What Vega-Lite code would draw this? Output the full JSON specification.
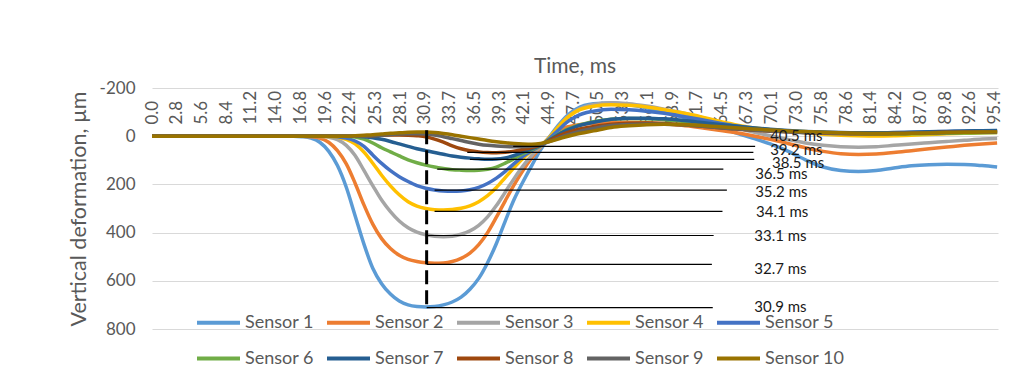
{
"$schema": "https://vega.github.io/schema/vega-lite/v6.json",
"autosize": {"type": "none"},
"width": 846,
"height": 241,
"padding": {"left": 152, "top": 88, "right": 16, "bottom": 39},
"background": "white",
"config": {"font": "Lato", "view": {"stroke": null}},
"title": {"text": "Time, ms", "fontSize": 21, "fontWeight": "normal", "color": "#595959", "anchor": "middle", "offset": 2},
"datasets": {
"curves": [
{"t":0,"Sensor 1":0,"Sensor 2":0,"Sensor 3":0,"Sensor 4":0,"Sensor 5":0,"Sensor 6":0,"Sensor 7":0,"Sensor 8":0,"Sensor 9":0,"Sensor 10":0},
{"t":4,"Sensor 1":0,"Sensor 2":0,"Sensor 3":0,"Sensor 4":0,"Sensor 5":0,"Sensor 6":0,"Sensor 7":0,"Sensor 8":0,"Sensor 9":0,"Sensor 10":0},
{"t":8,"Sensor 1":0,"Sensor 2":0,"Sensor 3":0,"Sensor 4":0,"Sensor 5":0,"Sensor 6":0,"Sensor 7":0,"Sensor 8":0,"Sensor 9":0,"Sensor 10":0},
{"t":12,"Sensor 1":0,"Sensor 2":0,"Sensor 3":0,"Sensor 4":0,"Sensor 5":0,"Sensor 6":0,"Sensor 7":0,"Sensor 8":0,"Sensor 9":0,"Sensor 10":0},
{"t":16,"Sensor 1":0,"Sensor 2":0,"Sensor 3":0,"Sensor 4":0,"Sensor 5":0,"Sensor 6":0,"Sensor 7":0,"Sensor 8":0,"Sensor 9":0,"Sensor 10":0},
{"t":17,"Sensor 1":2,"Sensor 2":0,"Sensor 3":0,"Sensor 4":0,"Sensor 5":0,"Sensor 6":0,"Sensor 7":0,"Sensor 8":0,"Sensor 9":0,"Sensor 10":0},
{"t":18,"Sensor 1":8,"Sensor 2":2,"Sensor 3":0,"Sensor 4":0,"Sensor 5":0,"Sensor 6":0,"Sensor 7":0,"Sensor 8":0,"Sensor 9":0,"Sensor 10":0},
{"t":19,"Sensor 1":25,"Sensor 2":8,"Sensor 3":1,"Sensor 4":0,"Sensor 5":0,"Sensor 6":0,"Sensor 7":0,"Sensor 8":0,"Sensor 9":0,"Sensor 10":0},
{"t":20,"Sensor 1":62,"Sensor 2":25,"Sensor 3":4,"Sensor 4":1,"Sensor 5":0,"Sensor 6":0,"Sensor 7":0,"Sensor 8":0,"Sensor 9":0,"Sensor 10":0},
{"t":21,"Sensor 1":122,"Sensor 2":60,"Sensor 3":14,"Sensor 4":4,"Sensor 5":2,"Sensor 6":0,"Sensor 7":0,"Sensor 8":0,"Sensor 9":0,"Sensor 10":0},
{"t":22,"Sensor 1":212,"Sensor 2":115,"Sensor 3":38,"Sensor 4":13,"Sensor 5":8,"Sensor 6":0,"Sensor 7":0,"Sensor 8":0,"Sensor 9":0,"Sensor 10":0},
{"t":23,"Sensor 1":330,"Sensor 2":195,"Sensor 3":80,"Sensor 4":32,"Sensor 5":20,"Sensor 6":3,"Sensor 7":0,"Sensor 8":0,"Sensor 9":0,"Sensor 10":-2},
{"t":24,"Sensor 1":448,"Sensor 2":285,"Sensor 3":142,"Sensor 4":66,"Sensor 5":42,"Sensor 6":12,"Sensor 7":2,"Sensor 8":0,"Sensor 9":0,"Sensor 10":-4},
{"t":25,"Sensor 1":548,"Sensor 2":365,"Sensor 3":205,"Sensor 4":112,"Sensor 5":78,"Sensor 6":28,"Sensor 7":6,"Sensor 8":-2,"Sensor 9":-2,"Sensor 10":-6},
{"t":26,"Sensor 1":612,"Sensor 2":425,"Sensor 3":265,"Sensor 4":162,"Sensor 5":113,"Sensor 6":48,"Sensor 7":13,"Sensor 8":-4,"Sensor 9":-4,"Sensor 10":-9},
{"t":27,"Sensor 1":655,"Sensor 2":466,"Sensor 3":313,"Sensor 4":206,"Sensor 5":143,"Sensor 6":65,"Sensor 7":22,"Sensor 8":-5,"Sensor 9":-7,"Sensor 10":-12},
{"t":28,"Sensor 1":684,"Sensor 2":494,"Sensor 3":352,"Sensor 4":243,"Sensor 5":168,"Sensor 6":82,"Sensor 7":32,"Sensor 8":-5,"Sensor 9":-9,"Sensor 10":-14},
{"t":29,"Sensor 1":700,"Sensor 2":511,"Sensor 3":380,"Sensor 4":272,"Sensor 5":188,"Sensor 6":98,"Sensor 7":42,"Sensor 8":-4,"Sensor 9":-10,"Sensor 10":-16},
{"t":30,"Sensor 1":707,"Sensor 2":520,"Sensor 3":398,"Sensor 4":290,"Sensor 5":205,"Sensor 6":110,"Sensor 7":52,"Sensor 8":-2,"Sensor 9":-10,"Sensor 10":-17},
{"t":31,"Sensor 1":709,"Sensor 2":525,"Sensor 3":409,"Sensor 4":300,"Sensor 5":216,"Sensor 6":120,"Sensor 7":60,"Sensor 8":2,"Sensor 9":-9,"Sensor 10":-17},
{"t":32,"Sensor 1":707,"Sensor 2":527,"Sensor 3":415,"Sensor 4":305,"Sensor 5":223,"Sensor 6":128,"Sensor 7":68,"Sensor 8":12,"Sensor 9":-5,"Sensor 10":-15},
{"t":33,"Sensor 1":700,"Sensor 2":526,"Sensor 3":417,"Sensor 4":306,"Sensor 5":227,"Sensor 6":134,"Sensor 7":75,"Sensor 8":25,"Sensor 9":2,"Sensor 10":-11},
{"t":34,"Sensor 1":688,"Sensor 2":520,"Sensor 3":415,"Sensor 4":304,"Sensor 5":228,"Sensor 6":139,"Sensor 7":82,"Sensor 8":40,"Sensor 9":10,"Sensor 10":-6},
{"t":35,"Sensor 1":668,"Sensor 2":507,"Sensor 3":407,"Sensor 4":299,"Sensor 5":227,"Sensor 6":141,"Sensor 7":87,"Sensor 8":52,"Sensor 9":18,"Sensor 10":0},
{"t":36,"Sensor 1":635,"Sensor 2":485,"Sensor 3":393,"Sensor 4":289,"Sensor 5":222,"Sensor 6":142,"Sensor 7":91,"Sensor 8":60,"Sensor 9":26,"Sensor 10":6},
{"t":37,"Sensor 1":590,"Sensor 2":450,"Sensor 3":370,"Sensor 4":272,"Sensor 5":212,"Sensor 6":141,"Sensor 7":94,"Sensor 8":65,"Sensor 9":33,"Sensor 10":12},
{"t":38,"Sensor 1":525,"Sensor 2":400,"Sensor 3":335,"Sensor 4":247,"Sensor 5":196,"Sensor 6":137,"Sensor 7":96,"Sensor 8":68,"Sensor 9":38,"Sensor 10":18},
{"t":39,"Sensor 1":445,"Sensor 2":336,"Sensor 3":288,"Sensor 4":213,"Sensor 5":174,"Sensor 6":128,"Sensor 7":95,"Sensor 8":69,"Sensor 9":41,"Sensor 10":23},
{"t":40,"Sensor 1":352,"Sensor 2":268,"Sensor 3":232,"Sensor 4":172,"Sensor 5":146,"Sensor 6":112,"Sensor 7":90,"Sensor 8":67,"Sensor 9":43,"Sensor 10":27},
{"t":41,"Sensor 1":263,"Sensor 2":202,"Sensor 3":176,"Sensor 4":130,"Sensor 5":114,"Sensor 6":93,"Sensor 7":80,"Sensor 8":62,"Sensor 9":44,"Sensor 10":30},
{"t":42,"Sensor 1":190,"Sensor 2":142,"Sensor 3":124,"Sensor 4":92,"Sensor 5":84,"Sensor 6":72,"Sensor 7":66,"Sensor 8":55,"Sensor 9":44,"Sensor 10":32},
{"t":43,"Sensor 1":122,"Sensor 2":90,"Sensor 3":80,"Sensor 4":62,"Sensor 5":60,"Sensor 6":55,"Sensor 7":52,"Sensor 8":47,"Sensor 9":42,"Sensor 10":33},
{"t":44,"Sensor 1":57,"Sensor 2":45,"Sensor 3":43,"Sensor 4":40,"Sensor 5":40,"Sensor 6":38,"Sensor 7":38,"Sensor 8":36,"Sensor 9":35,"Sensor 10":30},
{"t":45,"Sensor 1":3,"Sensor 2":5,"Sensor 3":5,"Sensor 4":5,"Sensor 5":10,"Sensor 6":15,"Sensor 7":16,"Sensor 8":18,"Sensor 9":22,"Sensor 10":22},
{"t":46,"Sensor 1":-45,"Sensor 2":-25,"Sensor 3":-38,"Sensor 4":-38,"Sensor 5":-25,"Sensor 6":-8,"Sensor 7":-6,"Sensor 8":0,"Sensor 9":8,"Sensor 10":12},
{"t":47,"Sensor 1":-85,"Sensor 2":-38,"Sensor 3":-78,"Sensor 4":-76,"Sensor 5":-58,"Sensor 6":-28,"Sensor 7":-25,"Sensor 8":-15,"Sensor 9":-5,"Sensor 10":1},
{"t":48,"Sensor 1":-112,"Sensor 2":-46,"Sensor 3":-106,"Sensor 4":-102,"Sensor 5":-82,"Sensor 6":-42,"Sensor 7":-40,"Sensor 8":-26,"Sensor 9":-16,"Sensor 10":-8},
{"t":50,"Sensor 1":-135,"Sensor 2":-54,"Sensor 3":-132,"Sensor 4":-124,"Sensor 5":-104,"Sensor 6":-60,"Sensor 7":-58,"Sensor 8":-40,"Sensor 9":-32,"Sensor 10":-22},
{"t":52,"Sensor 1":-138,"Sensor 2":-57,"Sensor 3":-139,"Sensor 4":-130,"Sensor 5":-112,"Sensor 6":-70,"Sensor 7":-70,"Sensor 8":-50,"Sensor 9":-44,"Sensor 10":-36},
{"t":54,"Sensor 1":-130,"Sensor 2":-58,"Sensor 3":-135,"Sensor 4":-128,"Sensor 5":-110,"Sensor 6":-73,"Sensor 7":-74,"Sensor 8":-54,"Sensor 9":-49,"Sensor 10":-43},
{"t":56,"Sensor 1":-118,"Sensor 2":-56,"Sensor 3":-125,"Sensor 4":-121,"Sensor 5":-104,"Sensor 6":-72,"Sensor 7":-75,"Sensor 8":-55,"Sensor 9":-51,"Sensor 10":-48},
{"t":58,"Sensor 1":-100,"Sensor 2":-52,"Sensor 3":-112,"Sensor 4":-110,"Sensor 5":-95,"Sensor 6":-68,"Sensor 7":-72,"Sensor 8":-53,"Sensor 9":-50,"Sensor 10":-50},
{"t":60,"Sensor 1":-80,"Sensor 2":-45,"Sensor 3":-97,"Sensor 4":-97,"Sensor 5":-83,"Sensor 6":-62,"Sensor 7":-66,"Sensor 8":-48,"Sensor 9":-47,"Sensor 10":-49},
{"t":62,"Sensor 1":-60,"Sensor 2":-36,"Sensor 3":-80,"Sensor 4":-82,"Sensor 5":-70,"Sensor 6":-55,"Sensor 7":-58,"Sensor 8":-42,"Sensor 9":-42,"Sensor 10":-45},
{"t":64,"Sensor 1":-38,"Sensor 2":-26,"Sensor 3":-60,"Sensor 4":-64,"Sensor 5":-56,"Sensor 6":-47,"Sensor 7":-50,"Sensor 8":-36,"Sensor 9":-36,"Sensor 10":-40},
{"t":66,"Sensor 1":-15,"Sensor 2":-15,"Sensor 3":-38,"Sensor 4":-48,"Sensor 5":-43,"Sensor 6":-40,"Sensor 7":-42,"Sensor 8":-30,"Sensor 9":-31,"Sensor 10":-35},
{"t":68,"Sensor 1":8,"Sensor 2":-2,"Sensor 3":-18,"Sensor 4":-35,"Sensor 5":-32,"Sensor 6":-33,"Sensor 7":-35,"Sensor 8":-25,"Sensor 9":-26,"Sensor 10":-30},
{"t":70,"Sensor 1":32,"Sensor 2":13,"Sensor 3":-2,"Sensor 4":-27,"Sensor 5":-24,"Sensor 6":-27,"Sensor 7":-29,"Sensor 8":-21,"Sensor 9":-22,"Sensor 10":-26},
{"t":72,"Sensor 1":62,"Sensor 2":30,"Sensor 3":14,"Sensor 4":-20,"Sensor 5":-18,"Sensor 6":-22,"Sensor 7":-24,"Sensor 8":-18,"Sensor 9":-19,"Sensor 10":-22},
{"t":74,"Sensor 1":98,"Sensor 2":48,"Sensor 3":28,"Sensor 4":-14,"Sensor 5":-14,"Sensor 6":-18,"Sensor 7":-20,"Sensor 8":-15,"Sensor 9":-16,"Sensor 10":-19},
{"t":76,"Sensor 1":128,"Sensor 2":63,"Sensor 3":38,"Sensor 4":-8,"Sensor 5":-12,"Sensor 6":-15,"Sensor 7":-17,"Sensor 8":-13,"Sensor 9":-14,"Sensor 10":-16},
{"t":78,"Sensor 1":142,"Sensor 2":73,"Sensor 3":44,"Sensor 4":-4,"Sensor 5":-11,"Sensor 6":-12,"Sensor 7":-15,"Sensor 8":-11,"Sensor 9":-12,"Sensor 10":-14},
{"t":80,"Sensor 1":146,"Sensor 2":76,"Sensor 3":46,"Sensor 4":-2,"Sensor 5":-11,"Sensor 6":-10,"Sensor 7":-14,"Sensor 8":-10,"Sensor 9":-11,"Sensor 10":-12},
{"t":82,"Sensor 1":142,"Sensor 2":74,"Sensor 3":44,"Sensor 4":-1,"Sensor 5":-12,"Sensor 6":-9,"Sensor 7":-14,"Sensor 8":-10,"Sensor 9":-11,"Sensor 10":-11},
{"t":84,"Sensor 1":132,"Sensor 2":68,"Sensor 3":38,"Sensor 4":-2,"Sensor 5":-14,"Sensor 6":-9,"Sensor 7":-15,"Sensor 8":-11,"Sensor 9":-12,"Sensor 10":-11},
{"t":86,"Sensor 1":123,"Sensor 2":60,"Sensor 3":32,"Sensor 4":-4,"Sensor 5":-16,"Sensor 6":-10,"Sensor 7":-16,"Sensor 8":-12,"Sensor 9":-13,"Sensor 10":-12},
{"t":88,"Sensor 1":118,"Sensor 2":52,"Sensor 3":27,"Sensor 4":-7,"Sensor 5":-18,"Sensor 6":-11,"Sensor 7":-18,"Sensor 8":-14,"Sensor 9":-14,"Sensor 10":-13},
{"t":90,"Sensor 1":116,"Sensor 2":45,"Sensor 3":22,"Sensor 4":-10,"Sensor 5":-20,"Sensor 6":-12,"Sensor 7":-20,"Sensor 8":-16,"Sensor 9":-15,"Sensor 10":-15},
{"t":92,"Sensor 1":117,"Sensor 2":38,"Sensor 3":17,"Sensor 4":-12,"Sensor 5":-21,"Sensor 6":-13,"Sensor 7":-22,"Sensor 8":-17,"Sensor 9":-16,"Sensor 10":-16},
{"t":94,"Sensor 1":122,"Sensor 2":32,"Sensor 3":12,"Sensor 4":-14,"Sensor 5":-22,"Sensor 6":-14,"Sensor 7":-23,"Sensor 8":-18,"Sensor 9":-17,"Sensor 10":-17},
{"t":95.7,"Sensor 1":128,"Sensor 2":28,"Sensor 3":9,"Sensor 4":-15,"Sensor 5":-22,"Sensor 6":-15,"Sensor 7":-24,"Sensor 8":-18,"Sensor 9":-17,"Sensor 10":-18}
],
"refs": [
{"label":"30.9 ms","v":711,"from":31.1,"to":63.5,"lv":707,"lt":68.2},
{"label":"32.7 ms","v":532,"from":31.1,"to":63.4,"lv":549,"lt":68.2},
{"label":"33.1 ms","v":412,"from":31.1,"to":63.6,"lv":416,"lt":68.2},
{"label":"34.1 ms","v":312,"from":32.0,"to":64.6,"lv":316,"lt":68.4},
{"label":"35.2 ms","v":224,"from":32.0,"to":65.1,"lv":233,"lt":68.3},
{"label":"36.5 ms","v":137,"from":32.3,"to":64.7,"lv":158,"lt":68.3},
{"label":"38.5 ms","v":96,"from":36.0,"to":68.2,"lv":112,"lt":70.2},
{"label":"39.2 ms","v":67,"from":35.7,"to":68.1,"lv":58,"lt":70.0},
{"label":"40.5 ms","v":42,"from":40.9,"to":68.3,"lv":0,"lt":70.0}
],
"dash": [
{"t":31.1,"top":-25,"bottom":707}
]
},
"layer": [
{
"data": {"name": "curves"},
"transform": [{"fold": ["Sensor 1","Sensor 2","Sensor 3","Sensor 4","Sensor 5","Sensor 6","Sensor 7","Sensor 8","Sensor 9","Sensor 10"], "as": ["sensor","v"]}],
"mark": {"type": "line", "strokeWidth": 3.5, "interpolate": "monotone"},
"encoding": {
"x": {"field": "t", "type": "quantitative", "scale": {"domain": [0, 95.8], "nice": false, "zero": false},
 "axis": {"orient": "top", "offset": -38, "tickCount": 60, "values": [0,2.8,5.6,8.4,11.2,14.0,16.8,19.6,22.4,25.3,28.1,30.9,33.7,36.5,39.3,42.1,44.9,47.7,50.5,53.3,56.1,58.9,61.7,64.5,67.3,70.1,73.0,75.8,78.6,81.4,84.2,87.0,89.8,92.6,95.4],
 "format": ".1f", "labelAngle": -90, "labelAlign": "left", "labelBaseline": "middle", "labelPadding": 2, "ticks": false, "domain": false, "grid": false, "title": null,
 "labelFontSize": 17, "labelColor": "#595959", "labelOverlap": false, "labelFlush": false, "labelBound": false}},
"y": {"field": "v", "type": "quantitative", "scale": {"domain": [-200, 800], "reverse": true, "nice": false, "zero": false},
 "axis": {"values": [-200,0,200,400,600,800], "labelExpr": "'' + datum.value", "ticks": false, "domain": false, "grid": true, "gridColor": "#d9d9d9", "gridWidth": 1,
 "labelFontSize": 17, "labelColor": "#595959", "labelPadding": 17, "title": "Vertical deformation, µm", "titleFontSize": 21.5, "titleFontWeight": "normal", "titleColor": "#595959", "titlePadding": 9}},
"color": {"field": "sensor", "type": "nominal",
 "scale": {"domain": ["Sensor 1","Sensor 2","Sensor 3","Sensor 4","Sensor 5","Sensor 6","Sensor 7","Sensor 8","Sensor 9","Sensor 10"],
 "range": ["#5B9BD5","#ED7D31","#A5A5A5","#FFC000","#4472C4","#70AD47","#255E91","#9E480E","#636363","#997300"]},
 "legend": {"title": null, "orient": "none", "legendX": 43, "legendY": 211, "direction": "horizontal", "columns": 5,
 "symbolType": "stroke", "symbolSize": 1849, "symbolStrokeWidth": 4, "labelFontSize": 18, "labelColor": "#595959", "labelOffset": 3, "columnPadding": 5, "rowPadding": 3}}
}
},
{
"data": {"name": "refs"},
"mark": {"type": "rule", "color": "#000000", "strokeWidth": 1.2},
"encoding": {"x": {"field": "from", "type": "quantitative"}, "x2": {"field": "to"}, "y": {"field": "v", "type": "quantitative"}}
},
{
"data": {"name": "refs"},
"mark": {"type": "text", "align": "left", "baseline": "middle", "fontSize": 15, "color": "#1a1a1a"},
"encoding": {"x": {"field": "lt", "type": "quantitative"}, "y": {"field": "lv", "type": "quantitative"}, "text": {"field": "label"}}
},
{
"data": {"name": "dash"},
"mark": {"type": "rule", "color": "#000000", "strokeWidth": 3, "strokeDash": [14, 6]},
"encoding": {"x": {"field": "t", "type": "quantitative"}, "y": {"field": "top", "type": "quantitative"}, "y2": {"field": "bottom"}}
}
]
}
